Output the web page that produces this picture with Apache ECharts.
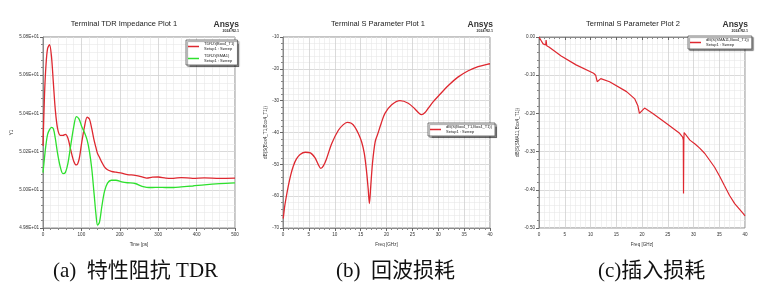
<!DOCTYPE html>
<html>
<head>
<meta charset="utf-8">
<script src="https://cdn.jsdelivr.net/npm/echarts@6/dist/echarts.min.js"></script>
<style>
  html, body { margin: 0; padding: 0; background: #fff; }
  #main { width: 766px; height: 300px; }
</style>
</head>
<body>
<div id="main"></div>
<script>
// (a) TDR impedance, ohm vs time [ps]
var tdrTime = [0, 4, 8, 12, 17, 22, 27, 32, 38, 45, 52, 58, 65, 72, 80, 87, 94, 101, 108, 115, 121, 127, 133, 138, 142, 147, 153, 160, 168, 178, 190, 205, 220, 240, 258, 270, 285, 300, 320, 340, 360, 390, 420, 460, 500];
var tdrBox4 = [50.23, 50.5, 50.66, 50.74, 50.76, 50.7, 50.56, 50.42, 50.32, 50.285, 50.285, 50.29, 50.27, 50.21, 50.15, 50.13, 50.16, 50.25, 50.33, 50.38, 50.37, 50.32, 50.26, 50.22, 50.19, 50.17, 50.145, 50.12, 50.105, 50.097, 50.092, 50.087, 50.08, 50.076, 50.068, 50.061, 50.066, 50.067, 50.061, 50.06, 50.064, 50.06, 50.062, 50.06, 50.061];
var tdrSma = [50.09, 50.17, 50.24, 50.29, 50.315, 50.327, 50.32, 50.27, 50.19, 50.12, 50.085, 50.09, 50.14, 50.23, 50.33, 50.383, 50.37, 50.33, 50.3, 50.26, 50.2, 50.11, 49.98, 49.87, 49.815, 49.83, 49.91, 49.99, 50.035, 50.05, 50.05, 50.042, 50.037, 50.033, 50.018, 50.013, 50.012, 50.013, 50.012, 50.012, 50.015, 50.02, 50.026, 50.032, 50.036];

// (b) return loss, dB vs GHz
var retFreq = [0.05, 0.3, 0.6, 1.0, 1.5, 2.0, 2.6, 3.3, 4.3, 5.3, 6.2, 6.8, 7.3, 7.8, 8.4, 9.4, 10.7, 11.6, 12.4, 13.2, 13.9, 14.6, 15.2, 15.7, 16.1, 16.45, 16.7, 16.95, 17.3, 17.8, 18.3, 19.0, 19.7, 21.0, 22.6, 24.2, 25.5, 26.2, 26.8, 27.4, 28.1, 29.0, 30.0, 31.9, 33.8, 35.8, 37.7, 39.6, 40];
var retLoss = [-67, -63.5, -60.5, -57, -53.3, -50.5, -48.3, -46.9, -46.2, -46.4, -48, -50, -51.3, -50.5, -48.3, -43.5, -39.3, -37.6, -36.8, -37.1, -38.3, -40.5, -43, -46.5, -51.5, -57.5, -62.3, -57, -49.5, -43, -40.5, -37, -34, -31.3, -30, -30.8, -32.6, -33.8, -34.4, -33.8, -32.3, -30.4, -28.6, -25.3, -22.6, -20.6, -19.3, -18.5, -18.4];

// (c) insertion loss, dB vs GHz
var insFreq = [0, 0.4, 0.8, 1.15, 1.3, 1.38, 1.45, 1.5, 2.0, 4.3, 7.2, 10.6, 11.0, 11.3, 11.6, 12.0, 13.7, 17.0, 18.6, 19.2, 19.5, 19.8, 20.5, 22.1, 24.7, 27.3, 27.9, 28.02, 28.06, 28.12, 28.18, 28.3, 29.3, 30.3, 31.2, 32.2, 33.1, 34.1, 35.1, 36.0, 37, 38, 39, 39.5, 40];
var insLoss = [0, -0.009, -0.018, -0.022, -0.021, -0.008, -0.01, -0.023, -0.027, -0.05, -0.073, -0.095, -0.1, -0.117, -0.112, -0.109, -0.117, -0.143, -0.162, -0.18, -0.2, -0.196, -0.186, -0.2, -0.226, -0.252, -0.262, -0.27, -0.41, -0.27, -0.25, -0.253, -0.27, -0.28, -0.291, -0.305, -0.322, -0.341, -0.365, -0.389, -0.415, -0.436, -0.452, -0.46, -0.468];

var plotTitles = ['Terminal TDR Impedance Plot 1', 'Terminal S Parameter Plot 1', 'Terminal S Parameter Plot 2'];
var captions = ['(a)  特性阻抗 TDR', '(b)  回波损耗', '(c)插入损耗'];

function pairs(xs, ys) {
  return xs.map(function (x, i) { return [x, ys[i]]; });
}

var small = { fontSize: 4.6, color: '#333', fontFamily: 'Liberation Sans' };
var boxColor = '#8a8a8a';
var red = '#de2830';
var green = '#2ee02e';

function xAx(grid, max, interval, name) {
  return {
    type: 'value', gridIndex: grid, min: 0, max: max, interval: interval,
    name: name, nameLocation: 'middle', nameGap: 9, nameTextStyle: small,
    axisLabel: Object.assign({ margin: 4 }, small),
    axisLine: { lineStyle: { color: boxColor } },
    axisTick: { length: 3, lineStyle: { color: '#666' } },
    minorTick: { show: true, splitNumber: 5, length: 2, lineStyle: { color: '#888' } },
    splitLine: { lineStyle: { color: '#d0d0d0', width: 0.8 } },
    minorSplitLine: { show: true, lineStyle: { color: '#e8e8e8', width: 0.6 } }
  };
}
function yAx(grid, min, max, interval, name, gap, fmt) {
  return {
    type: 'value', gridIndex: grid, min: min, max: max, interval: interval,
    name: name, nameLocation: 'middle', nameGap: gap, nameTextStyle: small,
    axisLabel: Object.assign({ margin: 4, formatter: fmt }, small),
    axisLine: { show: true, lineStyle: { color: boxColor } },
    axisTick: { show: true, length: 3, lineStyle: { color: '#666' } },
    minorTick: { show: true, splitNumber: 5, length: 2, lineStyle: { color: '#888' } },
    splitLine: { lineStyle: { color: '#d0d0d0', width: 0.8 } },
    minorSplitLine: { show: true, lineStyle: { color: '#e8e8e8', width: 0.6 } }
  };
}

function legendBox(left, top, names) {
  return {
    data: names, left: left, top: top, orient: 'vertical',
    itemWidth: 11, itemHeight: 1.5, itemGap: 2, icon: 'rect',
    padding: [1.5, 3, 1.5, 2],
    backgroundColor: '#fff', borderColor: '#555', borderWidth: 0.8,
    shadowColor: 'rgba(0,0,0,0.45)', shadowOffsetX: 1.5, shadowOffsetY: 1.5, shadowBlur: 1,
    textStyle: { fontSize: 4, color: '#222', fontFamily: 'Liberation Sans', lineHeight: 5, padding: [0, 0, 0, 0] },
    formatter: function (n) { return n + '\nSetup1 : Sweep'; }
  };
}

var grids = [
  { left: 43, top: 37, width: 192, height: 191 },
  { left: 283, top: 37, width: 207, height: 191 },
  { left: 539, top: 37, width: 206, height: 191 }
];

var graphics = [];
var titleX = [124, 378, 633];
var ansysX = [239, 493, 748];
for (var k = 0; k < 3; k++) {
  graphics.push({ type: 'text', x: titleX[k], y: 20, style: { text: plotTitles[k], fill: '#222', font: '7.5px "Liberation Sans"', textAlign: 'center' } });
  graphics.push({ type: 'text', x: ansysX[k], y: 20, style: { text: 'Ansys', fill: '#333', font: 'bold 8.5px "Liberation Sans"', textAlign: 'right' } });
  graphics.push({ type: 'text', x: ansysX[k], y: 29, style: { text: '2024 R2.1', fill: '#333', font: 'bold 3.6px "Liberation Sans"', textAlign: 'right' } });
}
var capX = [53, 336, 598];
for (var c = 0; c < 3; c++) {
  graphics.push({ type: 'text', x: capX[c], y: 261, style: { text: captions[c], fill: '#111', font: '21px "Liberation Serif", "Noto Sans CJK SC"' } });
}

var chart = echarts.init(document.getElementById('main'));
chart.setOption({
  backgroundColor: '#fff',
  animation: false,
  grid: grids.map(function (g) { return Object.assign({ show: true, borderColor: boxColor, borderWidth: 1, backgroundColor: '#fff' }, g); }),
  xAxis: [
    xAx(0, 500, 100, 'Time [ps]'),
    xAx(1, 40, 5, 'Freq [GHz]'),
    xAx(2, 40, 5, 'Freq [GHz]')
  ],
  yAxis: [
    yAx(0, 49.8, 50.8, 0.2, 'Y1', 29, function (v) { return (v / 10).toFixed(2) + 'E+01'; }),
    yAx(1, -70, -10, 10, 'dB(S(Box4_T1,Box4_T1))', 14, function (v) { return String(v); }),
    yAx(2, -0.5, 0, 0.1, 'dB(S(SMA11,Box4_T1))', 17, function (v) { return v.toFixed(2); })
  ],
  legend: [
    legendBox(186, 40, ['TDRZt(Box4_T1)', 'TDRZt(SMA1)']),
    legendBox(428, 123, ['dB(S(Box4_T1,Box4_T1))']),
    legendBox(688, 36, ['dB(S(SMA11,Box4_T1))'])
  ],
  series: [
    { name: 'TDRZt(Box4_T1)', type: 'line', xAxisIndex: 0, yAxisIndex: 0, data: pairs(tdrTime, tdrBox4), showSymbol: false, smooth: 0.3, color: red, lineStyle: { width: 1.3 } },
    { name: 'TDRZt(SMA1)', type: 'line', xAxisIndex: 0, yAxisIndex: 0, data: pairs(tdrTime, tdrSma), showSymbol: false, smooth: 0.3, color: green, lineStyle: { width: 1.3 } },
    { name: 'dB(S(Box4_T1,Box4_T1))', type: 'line', xAxisIndex: 1, yAxisIndex: 1, data: pairs(retFreq, retLoss), showSymbol: false, smooth: 0.3, color: red, lineStyle: { width: 1.3 } },
    { name: 'dB(S(SMA11,Box4_T1))', type: 'line', xAxisIndex: 2, yAxisIndex: 2, data: pairs(insFreq, insLoss), showSymbol: false, smooth: false, color: red, lineStyle: { width: 1.2 } }
  ],
  graphic: graphics
});
</script>
</body>
</html>
